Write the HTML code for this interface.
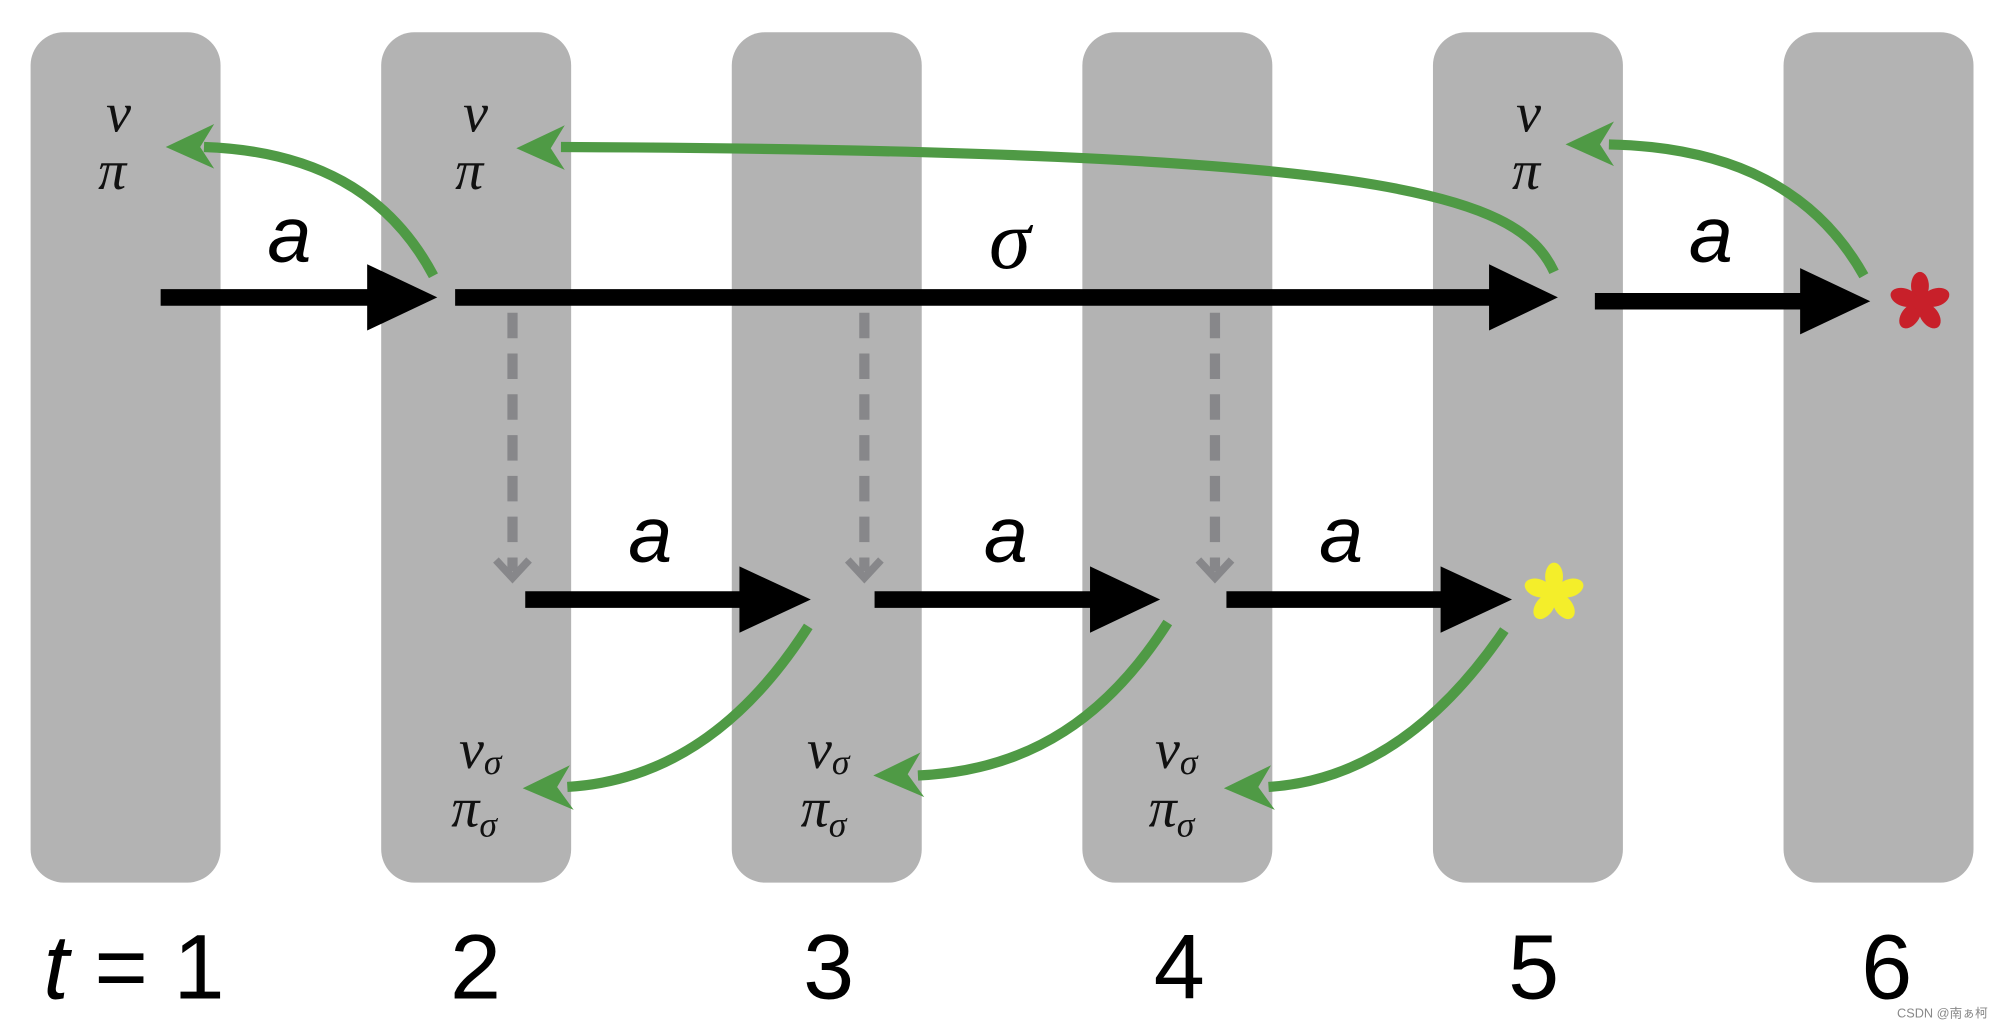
<!DOCTYPE html>
<html><head><meta charset="utf-8"><style>
html,body{margin:0;padding:0;background:#fff;}
svg{display:block;}
.lab{font-family:"Liberation Serif",serif;font-style:italic;fill:#111;}
.a{font-family:"Liberation Sans",sans-serif;font-style:italic;fill:#000;font-size:62px;}
.num{font-family:"Liberation Sans",sans-serif;fill:#000;font-size:72px;}
</style></head><body>
<svg width="1999" height="1027" viewBox="0 0 1568 805" xmlns="http://www.w3.org/2000/svg">
<g fill="#b3b3b3">
<rect x="24" y="25" width="149" height="667" rx="26"/>
<rect x="299" y="25" width="149" height="667" rx="26"/>
<rect x="574" y="25" width="149" height="667" rx="26"/>
<rect x="849" y="25" width="149" height="667" rx="26"/>
<rect x="1124" y="25" width="149" height="667" rx="26"/>
<rect x="1399" y="25" width="149" height="667" rx="26"/>
</g>
<!-- dashed grey -->
<g stroke="#87878a" stroke-width="8" stroke-dasharray="20,12" fill="none">
<line x1="402" y1="245" x2="402" y2="448"/>
<line x1="678" y1="245" x2="678" y2="448"/>
<line x1="953" y1="245" x2="953" y2="448"/>
</g>
<g stroke="#87878a" stroke-width="6" fill="none">
<polyline points="389,439 402,453 415,439"/>
<polyline points="665,439 678,453 691,439"/>
<polyline points="940,439 953,453 966,439"/>
</g>
<!-- black arrows -->
<g stroke="#000" stroke-width="13">
<line x1="126" y1="233" x2="292" y2="233"/>
<line x1="357" y1="233" x2="1172" y2="233"/>
<line x1="1251" y1="236" x2="1416" y2="236"/>
<line x1="412" y1="470" x2="584" y2="470"/>
<line x1="686" y1="470" x2="858" y2="470"/>
<line x1="962" y1="470" x2="1134" y2="470"/>
</g>
<g fill="#000">
<polygon points="288,207 343,233 288,259"/>
<polygon points="1168,207 1222,233 1168,259"/>
<polygon points="1412,210 1467,236 1412,262"/>
<polygon points="580,444 636,470 580,496"/>
<polygon points="855,444 910,470 855,496"/>
<polygon points="1130,444 1186,470 1130,496"/>
</g>
<!-- green curves -->
<g stroke="#4f9a45" stroke-width="8" fill="none">
<path d="M340,216 C305,150 245,118 160,115"/>
<path d="M1219,213 C1190,150 1080,118 440,115"/>
<path d="M1462,216 C1425,150 1360,115 1262,113"/>
<path d="M634,491 C590,560 530,612 445,617"/>
<path d="M916,488 C870,560 810,604 720,608"/>
<path d="M1180,494 C1135,560 1075,612 995,617"/>
</g>
<g fill="#4f9a45">
<polygon points="130,115 168,97 157,115 168,132"/>
<polygon points="405,116 443,98 432,116 443,133"/>
<polygon points="1228,113 1266,95 1255,113 1266,130"/>
<polygon points="410,618 447,600 437,617 450,635"/>
<polygon points="685,608 722,590 712,607 725,625"/>
<polygon points="960,618 997,600 987,617 1000,635"/>
</g>
<!-- asterisks -->
<g fill="#c8202a" transform="translate(1506,237)">
<g id="pet"><ellipse cx="0" cy="-13" rx="7" ry="11"/></g>
<use href="#pet" transform="rotate(72)"/><use href="#pet" transform="rotate(144)"/><use href="#pet" transform="rotate(216)"/><use href="#pet" transform="rotate(288)"/>
<circle r="6"/>
</g>
<g fill="#f4ee2a" transform="translate(1219,465)">
<g id="pet2"><ellipse cx="0" cy="-13" rx="7" ry="11"/></g>
<use href="#pet2" transform="rotate(72)"/><use href="#pet2" transform="rotate(144)"/><use href="#pet2" transform="rotate(216)"/><use href="#pet2" transform="rotate(288)"/>
<circle r="6"/>
</g>
<!-- labels -->
<g class="lab" font-size="44" text-anchor="middle">
<text x="93" y="103">v</text><text x="88" y="148">π</text>
<text x="373" y="103">v</text><text x="368" y="148">π</text>
<text x="1199" y="103">v</text><text x="1197" y="148">π</text>
</g>
<g class="lab" font-size="44">
<text x="360" y="602">v<tspan font-size="28" dy="5">σ</tspan></text>
<text x="354" y="648">π<tspan font-size="28" dy="8">σ</tspan></text>
<text x="633" y="602">v<tspan font-size="28" dy="5">σ</tspan></text>
<text x="628" y="648">π<tspan font-size="28" dy="8">σ</tspan></text>
<text x="906" y="602">v<tspan font-size="28" dy="5">σ</tspan></text>
<text x="901" y="648">π<tspan font-size="28" dy="8">σ</tspan></text>
</g>
<g class="a" text-anchor="middle">
<text x="227" y="205">a</text>
<text x="1342" y="205">a</text>
<text x="510" y="440">a</text>
<text x="789" y="440">a</text>
<text x="1052" y="440">a</text>
</g>
<text x="792" y="210" text-anchor="middle" style="font-family:'Liberation Serif',serif;font-style:italic;font-size:66px;">σ</text>
<g class="num" text-anchor="middle">
<text x="373" y="783">2</text>
<text x="650" y="783">3</text>
<text x="925" y="783">4</text>
<text x="1203" y="783">5</text>
<text x="1480" y="783">6</text>
</g>
<text x="34" y="783" class="num"><tspan font-style="italic">t</tspan> = 1</text>
<text x="1488" y="798" style="font-family:'Liberation Sans','Noto Sans CJK SC',sans-serif;font-size:10px;fill:#888;">CSDN @南ぁ柯</text>
</svg>
</body></html>
